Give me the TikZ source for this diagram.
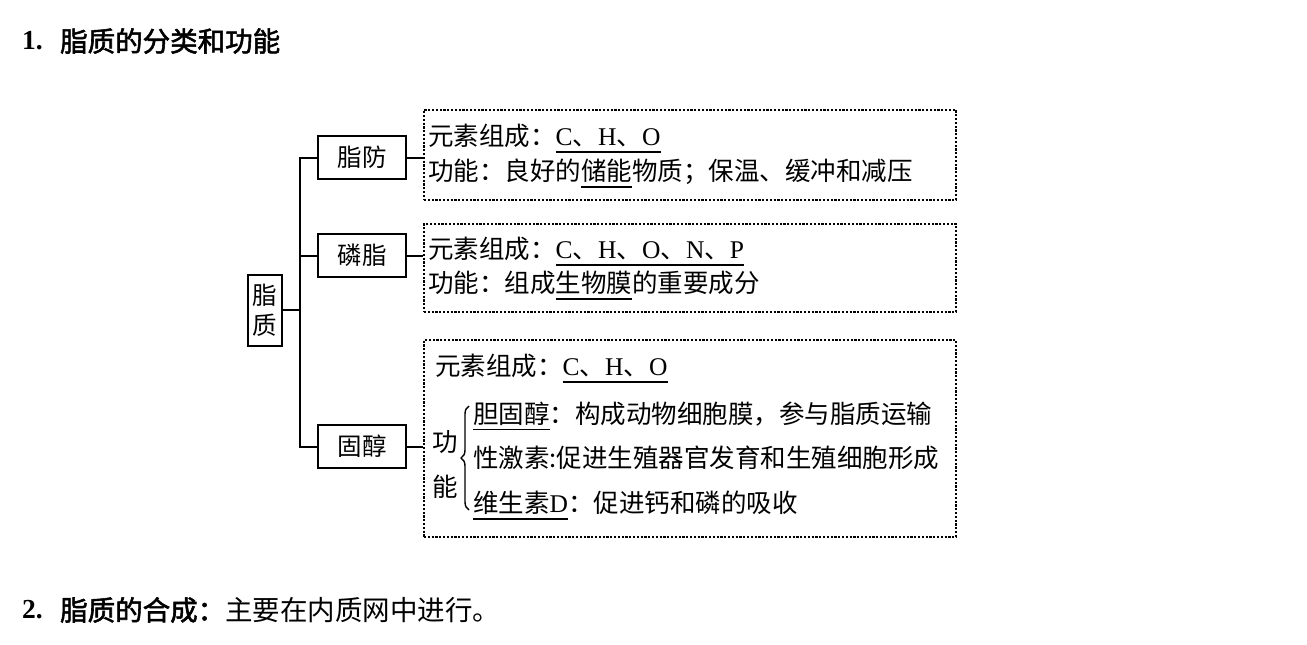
\documentclass[tikz,border=0pt]{standalone}
\usepackage{fontspec}
\setmainfont[AutoFakeBold=2]{Noto Sans CJK SC}
\newfontfamily\lat{Liberation Serif}
\usetikzlibrary{decorations.pathreplacing}
\newcommand\myul[1]{\smash{\setbox0\hbox{#1}\rlap{\rule[-7pt]{\wd0}{1.6pt}}\box0}}
\tikzset{
  sbox/.style={draw, line width=2pt, rectangle, inner sep=0pt, minimum width=88pt, minimum height=43pt, font=\fontsize{24.5}{30}\selectfont},
  dbox/.style={draw, line width=1.4pt, dash pattern=on 2.2pt off 1.6pt, rectangle, inner sep=0pt, minimum width=532pt},
  txt/.style={anchor=west, inner sep=0pt, font=\fontsize{25.5}{30}\selectfont},
  head/.style={anchor=west, inner sep=0pt, font=\fontsize{27.5}{32}\selectfont},
  conn/.style={line width=2pt}
}
\begin{document}
\begin{tikzpicture}[x=1pt,y=-1pt]
\useasboundingbox (0,0) rectangle (1307,645);
\fill[white] (0,0) rectangle (1307,645);

% headings
\node[head] (n1) at (22,41) {\lat\bfseries 1.};
\node[head] (h1) at (60,41) {\bfseries 脂质的分类和功能};
\node[head] (n2) at (22,610) {\lat\bfseries 2.};
\node[head] (h2) at (60,610) {{\bfseries 脂质的合成：}主要在内质网中进行。};

% solid boxes
\node[sbox, minimum width=34pt, minimum height=71pt, align=center] (zz) at (265,310) {脂\\质};
\node[sbox] (zf) at (362,157.5) {脂防};
\node[sbox] (lz) at (362,255.5) {磷脂};
\node[sbox] (gc) at (362,446.5) {固醇};

% dashed boxes
\node[dbox, minimum height=90pt] (db1) at (690,155) {};
\node[dbox, minimum height=88pt] (db2) at (690,268) {};
\node[dbox, minimum height=197pt] (db3) at (690,438.5) {};

% tree connectors
\coordinate (t) at (300,310);
\draw[conn] (zz.east) -- (zz.east -| t);
\draw[conn] (zf.west) -- (zf.west -| t) -- (gc.west -| t) -- (gc.west);
\draw[conn] (lz.west) -- (lz.west -| t);
\draw[conn] (zf.east) -- (zf.east -| db1.west);
\draw[conn] (lz.east) -- (lz.east -| db2.west);
\draw[conn] (gc.east) -- (gc.east -| db3.west);

% box 1 text
\node[txt] (a1) at (428,136) {元素组成：\myul{\lat C{\rmfamily 、}H{\rmfamily 、}O}};
\node[txt] (a2) at (428,172) {功能：良好的\myul{储能}物质；保温、缓冲和减压};

% box 2 text
\node[txt] (b1) at (428,249) {元素组成：\myul{\lat C{\rmfamily 、}H{\rmfamily 、}O{\rmfamily 、}N{\rmfamily 、}P}};
\node[txt] (b2) at (428,283) {功能：组成\myul{生物膜}的重要成分};

% box 3 text
\node[txt] (c1) at (435,366) {元素组成：\myul{\lat C{\rmfamily 、}H{\rmfamily 、}O}};
\node[txt, anchor=center] (g1) at (445,442) {功};
\node[txt, anchor=center] (g2) at (445,487) {能};
\draw[line width=1.4pt, decorate, decoration={brace, amplitude=8pt}] (469,510) -- (469,406);
\node[txt] (c2) at (473,414) {\myul{胆固醇}：构成动物细胞膜，参与脂质运输};
\node[txt] (c3) at (473,458) {性激素:促进生殖器官发育和生殖细胞形成};
\node[txt] (c4) at (473,503) {\myul{维生素{\lat D}}：促进钙和磷的吸收};
\end{tikzpicture}
\end{document}
